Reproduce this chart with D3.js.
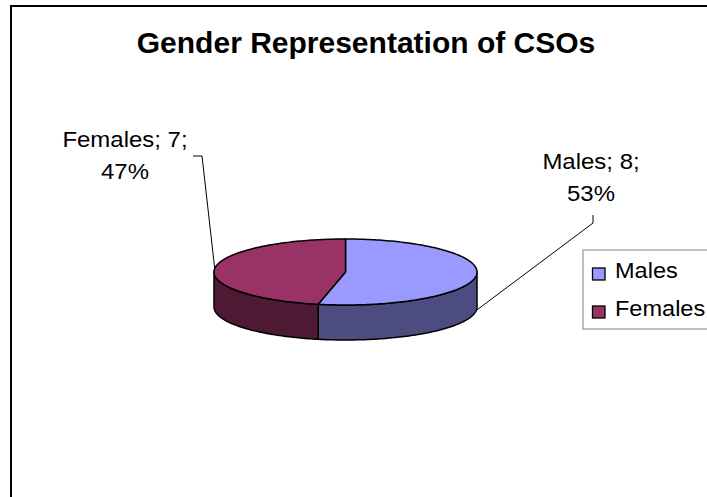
<!DOCTYPE html>
<html>
<head>
<meta charset="utf-8">
<script src="https://cdn.jsdelivr.net/npm/d3@7"></script>
<style>
  html, body { margin: 0; padding: 0; background: #fff; }
  svg { display: block; }
  text { font-family: "Liberation Sans", Arial, sans-serif; }
</style>
</head>
<body>
<svg id="chart" width="707" height="497"></svg>
<script>
// ---- data ----
const categories = ["Males", "Females"];
const values = [8, 7];
const topColors = ["#9999FF", "#993366"];
const sideColors = ["#4C4C80", "#4D1933"];
const title = "Gender Representation of CSOs";

// ---- layout ----
const W = 707, H = 497;
const cx = 345.5, cy = 272, rx = 131.5, ry = 33, depth = 35;

const svg = d3.select("#chart");

// chart border
svg.append("rect").attr("x", 11).attr("y", 6).attr("width", 800).attr("height", 600)
  .attr("fill", "none").attr("stroke", "#000").attr("stroke-width", 2);

svg.append("text").attr("transform", "translate(366,53) scale(1.035,1)").attr("text-anchor", "middle")
  .attr("font-size", 29).attr("font-weight", "bold").attr("fill", "#000").text(title);

const total = d3.sum(values);
const pie = d3.pie().sort(null).value(d => d.v).startAngle(0).endAngle(2 * Math.PI);
const arcs = pie(categories.map((c, i) => ({ c, v: values[i], i })));

const px = a => cx + rx * Math.sin(a);
const py = a => cy - ry * Math.cos(a);

function arcPoints(a0, a1, dy) {
  const n = Math.max(2, Math.ceil(Math.abs(a1 - a0) / 0.02));
  return d3.range(n + 1).map(k => {
    const a = a0 + (a1 - a0) * k / n;
    return [px(a), py(a) + dy];
  });
}
const line = d3.line();

const g = svg.append("g");

// side walls (front-facing part: angles between PI/2 and 3PI/2)
arcs.forEach(d => {
  const s = Math.max(d.startAngle, Math.PI / 2);
  const e = Math.min(d.endAngle, 3 * Math.PI / 2);
  if (e <= s) return;
  const top = arcPoints(s, e, 0);
  const bot = arcPoints(e, s, depth);
  g.append("path").attr("d", line(top.concat(bot)) + "Z")
    .attr("fill", sideColors[d.data.i]).attr("stroke", "#000")
    .attr("stroke-width", 1.5).attr("stroke-linejoin", "round");
});

// top faces
arcs.forEach(d => {
  const pts = [[cx, cy]].concat(arcPoints(d.startAngle, d.endAngle, 0));
  g.append("path").attr("d", line(pts) + "Z")
    .attr("fill", topColors[d.data.i]).attr("stroke", "#000")
    .attr("stroke-width", 1.5).attr("stroke-linejoin", "round");
});

// data labels + leader lines
const fmt = d3.format(".0%");
const labelPos = [
  { x: 591, y: 169, lead: [[593, 215], [593, 223]], bottom: true },
  { x: 125, y: 147, lead: [[193, 156], [202, 156]], bottom: false }
];
arcs.forEach(d => {
  const lp = labelPos[d.data.i];
  const mid = (d.startAngle + d.endAngle) / 2;
  const end = [px(mid), py(mid) + (lp.bottom ? depth : 0)];
  svg.append("path").attr("d", line(lp.lead.concat([end])))
    .attr("fill", "none").attr("stroke", "#000").attr("stroke-width", 1);
  const t = svg.append("text").attr("transform", `translate(${lp.x},${lp.y}) scale(1.09,1)`)
    .attr("text-anchor", "middle").attr("font-size", 22).attr("fill", "#000");
  t.append("tspan").attr("x", 0).attr("y", 0).text(`${d.data.c}; ${d.data.v};`);
  t.append("tspan").attr("x", 0).attr("y", 32).text(fmt(d.data.v / total));
});

// legend
svg.append("rect").attr("x", 583).attr("y", 250).attr("width", 200).attr("height", 79)
  .attr("fill", "#fff").attr("stroke", "#808080").attr("stroke-width", 1);
categories.forEach((c, i) => {
  const y = 268 + i * 38;
  svg.append("rect").attr("x", 592.5).attr("y", y).attr("width", 12.5).attr("height", 12)
    .attr("fill", topColors[i]).attr("stroke", "#000").attr("stroke-width", 1.3);
  svg.append("text").attr("transform", `translate(615,${y + 10}) scale(1.07,1)`)
    .attr("font-size", 22).attr("fill", "#000").text(c);
});
</script>
</body>
</html>
